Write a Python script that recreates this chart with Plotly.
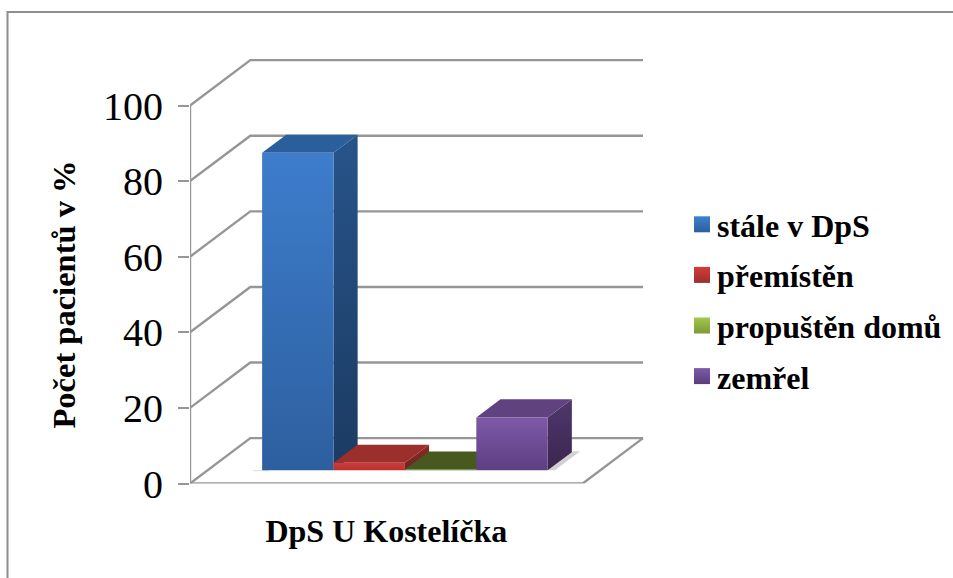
import plotly.graph_objects as go

# Chart values
series_names = ["stále v DpS", "přemístěn", "propuštěn domů", "zemřel"]
series_values = [84, 2, 0.2, 14]
category_label = "DpS U Kostelíčka"
value_ticks = [0, 20, 40, 60, 80, 100]
y_title = "Počet pacientů v %"

# Face colours per series: front (top, bottom), side (top, bottom), top face, legend (top, bottom)
front_colors = [("#3d7dcc", "#2d5f9f"), ("#cf3a36", "#b8322e"), ("#5d7a27", "#47591f"), ("#7e59a8", "#5d3f82")]
side_colors = [("#27548a", "#1b3b62"), ("#8a2b27", "#70221f"), ("#47591f", "#47591f"), ("#4f376c", "#3a2650")]
top_colors = ["#2b5f9b", "#9a2f2b", "#47591f", "#5f427f"]
legend_colors = [("#3f80d0", "#2c5f9e"), ("#d43d39", "#9c2e2b"), ("#a5c64e", "#7d9a34"), ("#7e59a8", "#5a3d7e")]

# Oblique projection: one depth unit moves this far along x and along the value axis
DEPTH_X = 0.845
DEPTH_V = 12.0
FLOOR_WIDTH = 5.5
BAR_START = 0.765
BAR_DEPTH_FRONT = 0.29
BAR_DEPTH_BACK = 0.69
GRID = "#969696"


def project(x, v, depth):
    return x + depth * DEPTH_X, v + depth * DEPTH_V


def polygon(points, fill=None, gradient=None, opacity=1.0):
    xs, ys = zip(*(project(*p) for p in points + points[:1]))
    kwargs = dict(fillgradient=dict(type="vertical", colorscale=[[0, gradient[1]], [1, gradient[0]]])) if gradient else dict(fillcolor=fill)
    return go.Scatter(x=xs, y=ys, yaxis="y2", mode="lines", fill="toself", line=dict(width=0),
                      opacity=opacity, showlegend=False, hoverinfo="skip", **kwargs)


def line(points):
    xs, ys = zip(*(project(*p) for p in points))
    return go.Scatter(x=xs, y=ys, yaxis="y2", mode="lines", line=dict(color=GRID, width=2.4),
                      showlegend=False, hoverinfo="skip")


fig = go.Figure()

# Walls: one bent gridline per tick
for tick in value_ticks:
    fig.add_trace(line([(0, tick, 0), (0, tick, 1), (FLOOR_WIDTH, tick, 1)]))
# Floor outline and the upright value axis
fig.add_trace(line([(0, 0, 0), (FLOOR_WIDTH, 0, 0), (FLOOR_WIDTH, 0, 1)]))
fig.add_trace(line([(0, 0, 0), (0, value_ticks[-1], 0)]))

# Soft contact shadow on the floor beside the outer bars
fig.add_trace(polygon([(BAR_START - 0.12, 0, BAR_DEPTH_FRONT - 0.02), (BAR_START + 0.1, 0, BAR_DEPTH_FRONT - 0.02),
                       (BAR_START + 0.1, 0, BAR_DEPTH_FRONT), (BAR_START - 0.12, 0, BAR_DEPTH_FRONT)],
                      fill="#9a9a9a", opacity=0.35))
fig.add_trace(polygon([(BAR_START + 4, 0, BAR_DEPTH_FRONT), (BAR_START + 4.1, 0, BAR_DEPTH_FRONT),
                       (BAR_START + 4.1, 0, BAR_DEPTH_BACK + 0.02), (BAR_START + 4, 0, BAR_DEPTH_BACK + 0.02)],
                      fill="#9a9a9a", opacity=0.45))

# Bars drawn left to right so each later bar overlaps the previous one's depth
for i, value in enumerate(series_values):
    x0, x1 = BAR_START + i, BAR_START + i + 1
    d0, d1 = BAR_DEPTH_FRONT, BAR_DEPTH_BACK
    fig.add_trace(polygon([(x1, 0, d0), (x1, 0, d1), (x1, value, d1), (x1, value, d0)], gradient=side_colors[i]))
    fig.add_trace(polygon([(x0, value, d0), (x1, value, d0), (x1, value, d1), (x0, value, d1)], fill=top_colors[i]))
    fig.add_trace(polygon([(x0, 0, d0), (x1, 0, d0), (x1, value, d0), (x0, value, d0)], gradient=front_colors[i]))

# Legend entries
for i, name in enumerate(series_names):
    fig.add_trace(go.Scatter(
        x=[None], y=[None], mode="markers", name=f"<b>{name}</b>", legendgroup=name,
        marker=dict(symbol="square", size=16, color=legend_colors[i][0], line=dict(width=0),
                    angle=90, standoff=5,
                    gradient=dict(type="vertical", color=legend_colors[i][1])),
    ))

W, H = 953, 578
fig.update_layout(
    width=W, height=H, margin=dict(l=0, r=0, t=0, b=0, pad=0, autoexpand=False),
    paper_bgcolor="white", plot_bgcolor="white", hovermode=False,
    font=dict(family="Liberation Serif", color="black"),
    xaxis=dict(domain=[190 / W, 660 / W], range=[0, 470 / 71.4], showgrid=False, zeroline=False, showline=False,
               tickmode="array", tickvals=[FLOOR_WIDTH / 2], ticktext=[f"<b>{category_label}</b>"],
               ticks="outside", ticklen=19, tickcolor="rgba(0,0,0,0)", tickfont=dict(size=32)),
    # Visible value axis spans the front plane; the hidden one shares its scale and leaves room for depth
    yaxis=dict(domain=[(H - 483.5) / H, (H - 105.5) / H], range=[0, 100], showgrid=False, zeroline=False, showline=False,
               tickmode="array", tickvals=value_ticks, ticks="outside", ticklen=11, tickwidth=2.4, tickcolor=GRID,
               tickfont=dict(size=40), ticklabelstandoff=7,
               title=dict(text=f"<b>{y_title}</b>", font=dict(size=32.5), standoff=17)),
    yaxis2=dict(domain=[(H - 483.5) / H, (H - 45.5) / H], range=[0, 100 * 438 / 378], visible=False, anchor="x"),
    legend=dict(x=677 / W, xanchor="left", y=(H - 197) / H, yanchor="top", font=dict(size=32),
                itemwidth=30, tracegroupgap=6, bgcolor="rgba(0,0,0,0)"),
    # Outer chart frame, open on the right and at the bottom
    shapes=[dict(type="path", xref="paper", yref="paper",
                 path=f"M {7.5 / W} 0 L {7.5 / W} {(H - 12) / H} L 1 {(H - 12) / H}",
                 line=dict(color="#8e8e8e", width=2))],
)

fig.write_html("out.html")
